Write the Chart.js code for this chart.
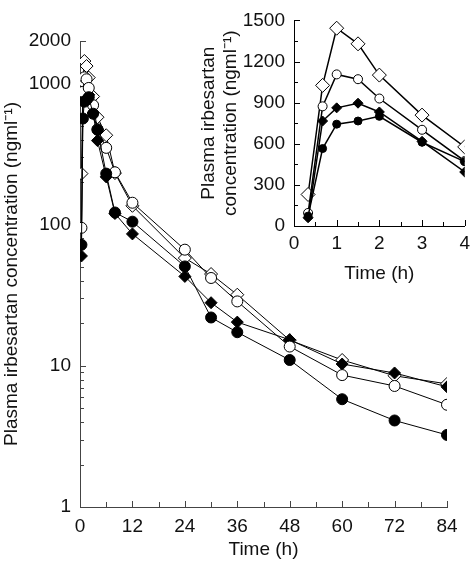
<!DOCTYPE html>
<html>
<head>
<meta charset="utf-8">
<script src="https://cdn.jsdelivr.net/npm/chart.js@4.4.1/dist/chart.umd.min.js"></script>
<style>
  body { margin: 0; background: #fff; }
  #kutu { position: relative; width: 476px; height: 561px; }
  #anaGrafik { position: absolute; left: 0; top: 0; }
  #icGrafik { position: absolute; left: 185px; top: 0; }
</style>
</head>
<body>
<div id="kutu">
  <canvas id="anaGrafik" width="476" height="561"></canvas>
  <canvas id="icGrafik" width="291" height="285"></canvas>
</div>
<script>
// Ölçüm zamanları (saat)
const zamanlar = [0.33, 0.67, 1, 1.5, 2, 3, 4, 6, 8, 12, 24, 30, 36, 48, 60, 72, 84];
// iç grafik sadece ilk 4 saati gösteriyor
const icZamanSayisi = 7;

// Plazma irbesartan konsantrasyonları (ng/ml)
const acikBaklava  = [230, 1026, 1443, 1329, 1101, 809, 577, 430, 232, 136, 58, 44.7, 31.9, 15.2, 11.0, 8.5, 7.45];
const acikDaire    = [95, 873, 1106, 1071, 930, 702, 474, 350, 235, 143, 66.5, 41.9, 28.6, 13.7, 8.6, 7.2, 5.3];
const doluBaklava  = [60, 766, 862, 896, 832, 618, 394, 218, 120, 86, 43, 28, 20.4, 15.3, 10.3, 8.9, 7.1];
const doluDaire    = [72, 565, 743, 766, 800, 611, 470, 230, 122, 105, 50.6, 22, 17.3, 11.0, 5.8, 4.1, 3.24];

// Eksen çentikleri
const anaXEtiketler = [0, 12, 24, 36, 48, 60, 72, 84];
const anaXCentikler = [0, 6, 12, 18, 24, 30, 36, 42, 48, 54, 60, 66, 72, 78, 84];
const anaYEtiketler = [1, 10, 100, 1000, 2000];
const anaYCentikler = [1, 2, 3, 4, 5, 6, 7, 8, 9, 10, 20, 30, 40, 50, 60, 70, 80, 90,
                       100, 200, 300, 400, 500, 600, 700, 800, 900, 1000, 2000];
const icXEtiketler = [0, 1, 2, 3, 4];
const icYEtiketler = [0, 300, 600, 900, 1200, 1500];

const yaziTipi = "'Liberation Sans', Arial, Helvetica, sans-serif";

// Çentikleri eksenin içine doğru çizen eklenti
const icCentik = {
  id: 'icCentik',
  beforeDatasetsDraw(chart, args, opts) {
    const ctx = chart.ctx;
    const a = chart.chartArea;
    const xs = chart.scales.x, ys = chart.scales.y;
    ctx.save();
    ctx.strokeStyle = opts.renk;
    ctx.lineWidth = 1;
    xs.ticks.forEach(t => {
      const px = Math.round(xs.getPixelForValue(t.value)) + 0.5;
      const uzun = t.label !== '' ? opts.xBuyuk : opts.xKucuk;
      ctx.beginPath(); ctx.moveTo(px, a.bottom); ctx.lineTo(px, a.bottom - uzun); ctx.stroke();
    });
    ys.ticks.forEach(t => {
      const py = Math.round(ys.getPixelForValue(t.value)) + 0.5;
      const uzun = t.label !== '' ? opts.yBuyuk : opts.yKucuk;
      ctx.beginPath(); ctx.moveTo(a.left, py); ctx.lineTo(a.left + uzun, py); ctx.stroke();
    });
    ctx.restore();
  }
};

function seriYap(etiket, degerler, zamanDizisi, sekil, dolu, yaricap, kalinlik) {
  return {
    label: etiket,
    data: zamanDizisi.map((t, i) => ({ x: t, y: degerler[i] })),
    borderColor: '#000',
    borderWidth: kalinlik,
    pointStyle: sekil,
    pointRadius: yaricap,
    pointBorderWidth: 1,
    pointBorderColor: '#000',
    pointBackgroundColor: dolu ? '#000' : '#fff',
    tension: 0,
    fill: false
  };
}

const etiketFont = { family: yaziTipi, size: 19 };

// ANA GRAFİK (logaritmik)
new Chart(document.getElementById('anaGrafik'), {
  type: 'line',
  data: {
    datasets: [
      seriYap('Dolu daire', doluDaire, zamanlar, 'circle', true, 5.5, 1),
      seriYap('Açık daire', acikDaire, zamanlar, 'circle', false, 5.5, 1),
      seriYap('Dolu baklava', doluBaklava, zamanlar, 'rectRot', true, 6, 1),
      seriYap('Açık baklava', acikBaklava, zamanlar, 'rectRot', false, 6.5, 1)
    ]
  },
  options: {
    responsive: false,
    animation: false,
    devicePixelRatio: 1,
    layout: { padding: { top: 41, right: 29, left: 0, bottom: 0 } },
    scales: {
      x: {
        type: 'linear',
        min: 0, max: 84,
        afterBuildTicks: s => { s.ticks = anaXCentikler.map(v => ({ value: v })); },
        afterFit: s => { s.height = 54; },
        ticks: {
          autoSkip: false, maxRotation: 0, padding: 8, color: '#111', font: etiketFont,
          callback: v => anaXEtiketler.includes(v) ? String(v) : ''
        },
        grid: { display: false, drawTicks: false },
        border: { display: true, color: '#444', width: 1 },
        title: { display: true, text: 'Time (h)', color: '#111', font: etiketFont, padding: { top: 5, bottom: 0 } }
      },
      y: {
        type: 'logarithmic',
        min: 1, max: 2000,
        afterBuildTicks: s => { s.ticks = anaYCentikler.map(v => ({ value: v })); },
        afterFit: s => { s.width = 80; },
        ticks: {
          autoSkip: false, padding: 9, color: '#111', font: etiketFont,
          callback: v => anaYEtiketler.includes(v) ? String(v) : ''
        },
        grid: { display: false, drawTicks: false },
        border: { display: true, color: '#444', width: 1 },
        title: { display: true, text: 'Plasma irbesartan concentration (ngml\u207B\u00B9)', color: '#111', font: etiketFont, padding: { top: 0, bottom: 0 } }
      }
    },
    plugins: {
      legend: { display: false },
      tooltip: { enabled: false },
      icCentik: { renk: '#444', xBuyuk: 6, xKucuk: 5, yBuyuk: 6, yKucuk: 4 }
    }
  },
  plugins: [icCentik]
});

// İÇ GRAFİK (doğrusal, ilk 4 saat)
const icZamanlar = zamanlar.slice(0, icZamanSayisi);
new Chart(document.getElementById('icGrafik'), {
  type: 'line',
  data: {
    datasets: [
      seriYap('Dolu daire', doluDaire.slice(0, icZamanSayisi), icZamanlar, 'circle', true, 4, 1.5),
      seriYap('Açık daire', acikDaire.slice(0, icZamanSayisi), icZamanlar, 'circle', false, 4.5, 1.5),
      seriYap('Dolu baklava', doluBaklava.slice(0, icZamanSayisi), icZamanlar, 'rectRot', true, 5, 1.5),
      seriYap('Açık baklava', acikBaklava.slice(0, icZamanSayisi), icZamanlar, 'rectRot', false, 7, 1.5)
    ]
  },
  options: {
    responsive: false,
    animation: false,
    devicePixelRatio: 1,
    layout: { padding: { top: 7, right: 7, left: 0, bottom: 0 } },
    scales: {
      x: {
        type: 'linear',
        min: 0, max: 4,
        ticks: {
          stepSize: 0.5, autoSkip: false, maxRotation: 0, padding: 6, color: '#111', font: etiketFont,
          callback: v => icXEtiketler.includes(v) ? String(v) : ''
        },
        afterFit: s => { s.height = 59; },
        grid: { display: false, drawTicks: false },
        border: { display: true, color: '#000', width: 1 },
        title: { display: true, text: 'Time (h)', color: '#111', font: etiketFont, padding: { top: 5, bottom: 0 } }
      },
      y: {
        min: 0, max: 1500,
        ticks: {
          stepSize: 150, autoSkip: false, padding: 9, color: '#111', font: etiketFont,
          callback: v => icYEtiketler.includes(v) ? String(v) : ''
        },
        afterFit: s => { s.width = 109; },
        grid: { display: false, drawTicks: false },
        border: { display: true, color: '#000', width: 1 },
        title: {
          display: true, text: ['Plasma irbesartan', 'concentration (ngml\u207B\u00B9)'],
          color: '#111', font: etiketFont, padding: { top: 12, bottom: 0 }
        }
      }
    },
    plugins: {
      legend: { display: false },
      tooltip: { enabled: false },
      icCentik: { renk: '#000', xBuyuk: 6, xKucuk: 4, yBuyuk: 6, yKucuk: 4 }
    }
  },
  plugins: [icCentik]
});
</script>
</body>
</html>
